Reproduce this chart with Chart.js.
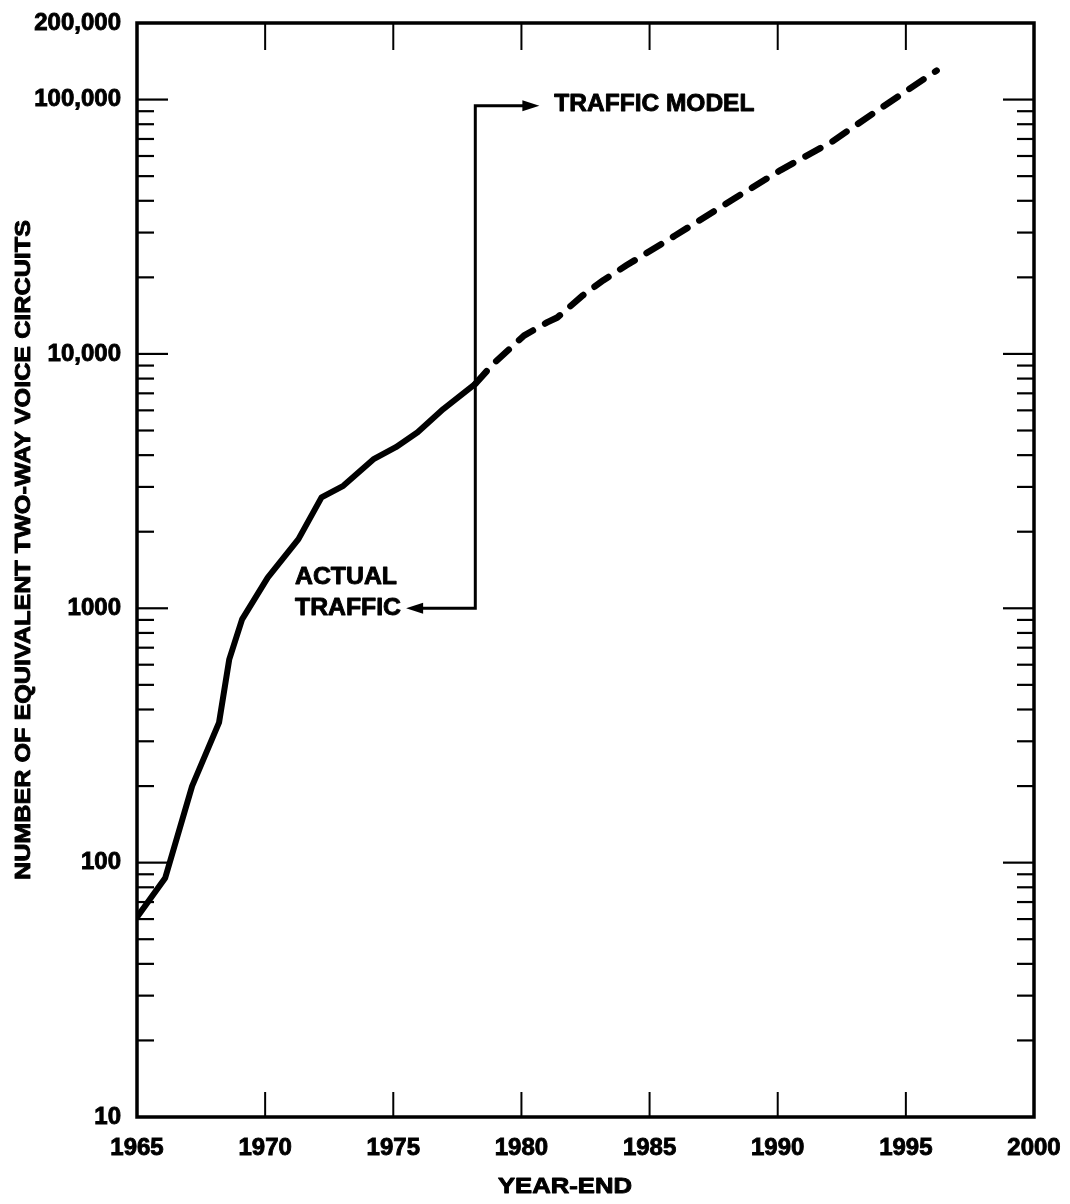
<!DOCTYPE html>
<html>
<head>
<meta charset="utf-8">
<script src="https://cdn.jsdelivr.net/npm/chart.js@4.4.1/dist/chart.umd.min.js"></script>
<style>
  html, body { margin: 0; padding: 0; background: #fff; }
  #wrap { width: 1070px; height: 1204px; position: relative; }
</style>
</head>
<body>
<div id="wrap"><canvas id="chart"></canvas></div>
<script>
// Recorded traffic (year-end) and the traffic model projection
const actualYears  = [1965.0, 1966.1, 1967.15, 1968.2, 1968.6, 1969.1, 1970.1, 1971.3, 1972.2, 1973.05, 1974.25, 1975.1, 1975.95, 1976.95, 1978.2];
const actualValues = [61, 87, 200, 355, 630, 905, 1320, 1870, 2730, 3030, 3870, 4300, 4920, 6070, 7620];

const modelYears  = [1978.2, 1978.9, 1980.1, 1981.0, 1981.4, 1982.4, 1983.2, 1984.1, 1986.0, 1988.2, 1990.1, 1992.1, 1994.0, 1996.2];
const modelValues = [7620, 9140, 11800, 13300, 13900, 17000, 19500, 22300, 29200, 40200, 52700, 68100, 92200, 130000];

const yearTicks   = [1965, 1970, 1975, 1980, 1985, 1990, 1995, 2000];
const yTickValues = [10, 100, 1000, 10000, 100000, 200000];
const yTickLabels = ['10', '100', '1000', '10,000', '100,000', '200,000'];

// Callout positions (year, circuits)
const calloutYear = 1978.2;
const modelArrow  = { endYear: 1980.7, value: 94500, text: 'TRAFFIC MODEL' };
const actualArrow = { endYear: 1975.5, value: 1000, lines: ['ACTUAL', 'TRAFFIC'] };

const FONT = "'Liberation Sans', Arial, Helvetica, sans-serif";
const INK = 0.9; // extra stroke to give the lettering a heavier weight

function toPoints(xs, ys) { return xs.map((x, i) => ({ x, y: ys[i] })); }

function seg(ctx, x1, y1, x2, y2) {
  ctx.beginPath(); ctx.moveTo(x1, y1); ctx.lineTo(x2, y2); ctx.stroke();
}

function arrowHead(ctx, tipX, tipY, dir) {
  // dir: +1 points right, -1 points left
  ctx.beginPath();
  ctx.moveTo(tipX, tipY);
  ctx.lineTo(tipX - dir * 17, tipY - 5.5);
  ctx.lineTo(tipX - dir * 17, tipY + 5.5);
  ctx.closePath();
  ctx.fill();
}

// Draw text stretched along its baseline to a set length
function drawText(ctx, text, x, y, font, targetWidth, align, angle) {
  ctx.save();
  ctx.font = font;
  const w = ctx.measureText(text).width;
  ctx.translate(x, y);
  ctx.rotate(angle || 0);
  ctx.scale(targetWidth / w, 1);
  ctx.textAlign = align;
  ctx.textBaseline = 'middle';
  ctx.lineWidth = INK;
  ctx.lineJoin = 'round';
  ctx.fillText(text, 0, 0);
  ctx.strokeText(text, 0, 0);
  ctx.restore();
}

const framePlugin = {
  id: 'frameAndTicks',
  beforeDatasetsDraw(chart) {
    const { ctx, chartArea: a, scales: { x, y } } = chart;
    ctx.save();
    ctx.strokeStyle = '#000';
    ctx.lineCap = 'butt';
    // year ticks, top and bottom, pointing inward
    ctx.lineWidth = 2;
    yearTicks.slice(1, -1).forEach(yr => {
      const px = x.getPixelForValue(yr);
      seg(ctx, px, a.bottom, px, a.bottom - 25);
      seg(ctx, px, a.top, px, a.top + 27);
    });
    // log ticks on both vertical edges
    ctx.lineWidth = 2.2;
    for (let d = 10; d <= 100000; d *= 10) {
      for (let m = 1; m <= 9; m++) {
        const v = d * m;
        if (v === 10 || v >= 200000) continue;
        const py = y.getPixelForValue(v);
        const len = m === 1 ? 31 : 17;
        seg(ctx, a.left, py, a.left + len, py);
        seg(ctx, a.right, py, a.right - len, py);
      }
    }
    // frame
    ctx.lineWidth = 3.5;
    ctx.strokeRect(a.left, a.top, a.right - a.left, a.bottom - a.top);
    ctx.restore();
  },
  afterDatasetsDraw(chart) {
    const { ctx, scales: { x, y } } = chart;
    ctx.save();
    ctx.strokeStyle = '#000';
    ctx.fillStyle = '#000';
    ctx.lineWidth = 3;
    ctx.lineJoin = 'miter';
    const vx = x.getPixelForValue(calloutYear);
    const topY = y.getPixelForValue(modelArrow.value);
    const botY = y.getPixelForValue(actualArrow.value);
    // vertical leader with right and left arrows
    ctx.beginPath();
    ctx.moveTo(x.getPixelForValue(modelArrow.endYear) - 12, topY);
    ctx.lineTo(vx, topY);
    ctx.lineTo(vx, botY);
    ctx.lineTo(x.getPixelForValue(actualArrow.endYear) + 12, botY);
    ctx.stroke();
    arrowHead(ctx, x.getPixelForValue(modelArrow.endYear), topY, 1);
    arrowHead(ctx, x.getPixelForValue(actualArrow.endYear), botY, -1);

    const labelFont = 'bold 24px ' + FONT;
    drawText(ctx, modelArrow.text, x.getPixelForValue(modelArrow.endYear) + 15, topY - 1, labelFont, 200, 'left');
    drawText(ctx, actualArrow.lines[0], 295, botY - 31, labelFont, 102, 'left');
    drawText(ctx, actualArrow.lines[1], 295, botY, labelFont, 106, 'left');

    // axis titles
    drawText(ctx, 'NUMBER OF EQUIVALENT TWO-WAY VOICE CIRCUITS', 24, 550, 'bold 22px ' + FONT, 660, 'center', -Math.PI / 2);
    drawText(ctx, 'YEAR-END', 565, 1187, 'bold 22px ' + FONT, 134, 'center');
    ctx.restore();
  }
};

const tickFont = { family: FONT, size: 24, weight: 'bold' };

new Chart(document.getElementById('chart'), {
  type: 'line',
  data: {
    datasets: [
      {
        label: 'Actual traffic',
        data: toPoints(actualYears, actualValues),
        borderColor: '#000',
        borderWidth: 6,
        pointRadius: 0,
        tension: 0,
        borderJoinStyle: 'round',
        borderCapStyle: 'round',
        fill: false
      },
      {
        label: 'Traffic model',
        data: toPoints(modelYears, modelValues),
        borderColor: '#000',
        borderWidth: 6.5,
        borderDash: [17, 14],
        pointRadius: 0,
        tension: 0,
        borderJoinStyle: 'round',
        borderCapStyle: 'round',
        fill: false
      }
    ]
  },
  options: {
    responsive: true,
    maintainAspectRatio: false,
    animation: false,
    events: [],
    layout: { padding: { top: 23, right: 36, left: 0, bottom: 0 } },
    plugins: { legend: { display: false }, tooltip: { enabled: false } },
    scales: {
      x: {
        type: 'linear',
        min: 1965,
        max: 2000,
        grid: { display: false },
        border: { display: false },
        afterBuildTicks: s => { s.ticks = yearTicks.map(v => ({ value: v })); },
        afterFit: s => { s.height = 1204 - 1117; },
        ticks: {
          color: '#000',
          font: tickFont,
          textStrokeColor: '#000',
          textStrokeWidth: INK,
          padding: 9,
          maxRotation: 0,
          autoSkip: false,
          callback: v => String(v)
        }
      },
      y: {
        type: 'logarithmic',
        min: 10,
        max: 200000,
        grid: { display: false },
        border: { display: false },
        afterBuildTicks: s => { s.ticks = yTickValues.map(v => ({ value: v })); },
        afterFit: s => { s.width = 137; },
        ticks: {
          color: '#000',
          font: tickFont,
          textStrokeColor: '#000',
          textStrokeWidth: INK,
          padding: 8,
          autoSkip: false,
          callback: v => yTickLabels[yTickValues.indexOf(v)]
        }
      }
    }
  },
  plugins: [framePlugin]
});
</script>
</body>
</html>
